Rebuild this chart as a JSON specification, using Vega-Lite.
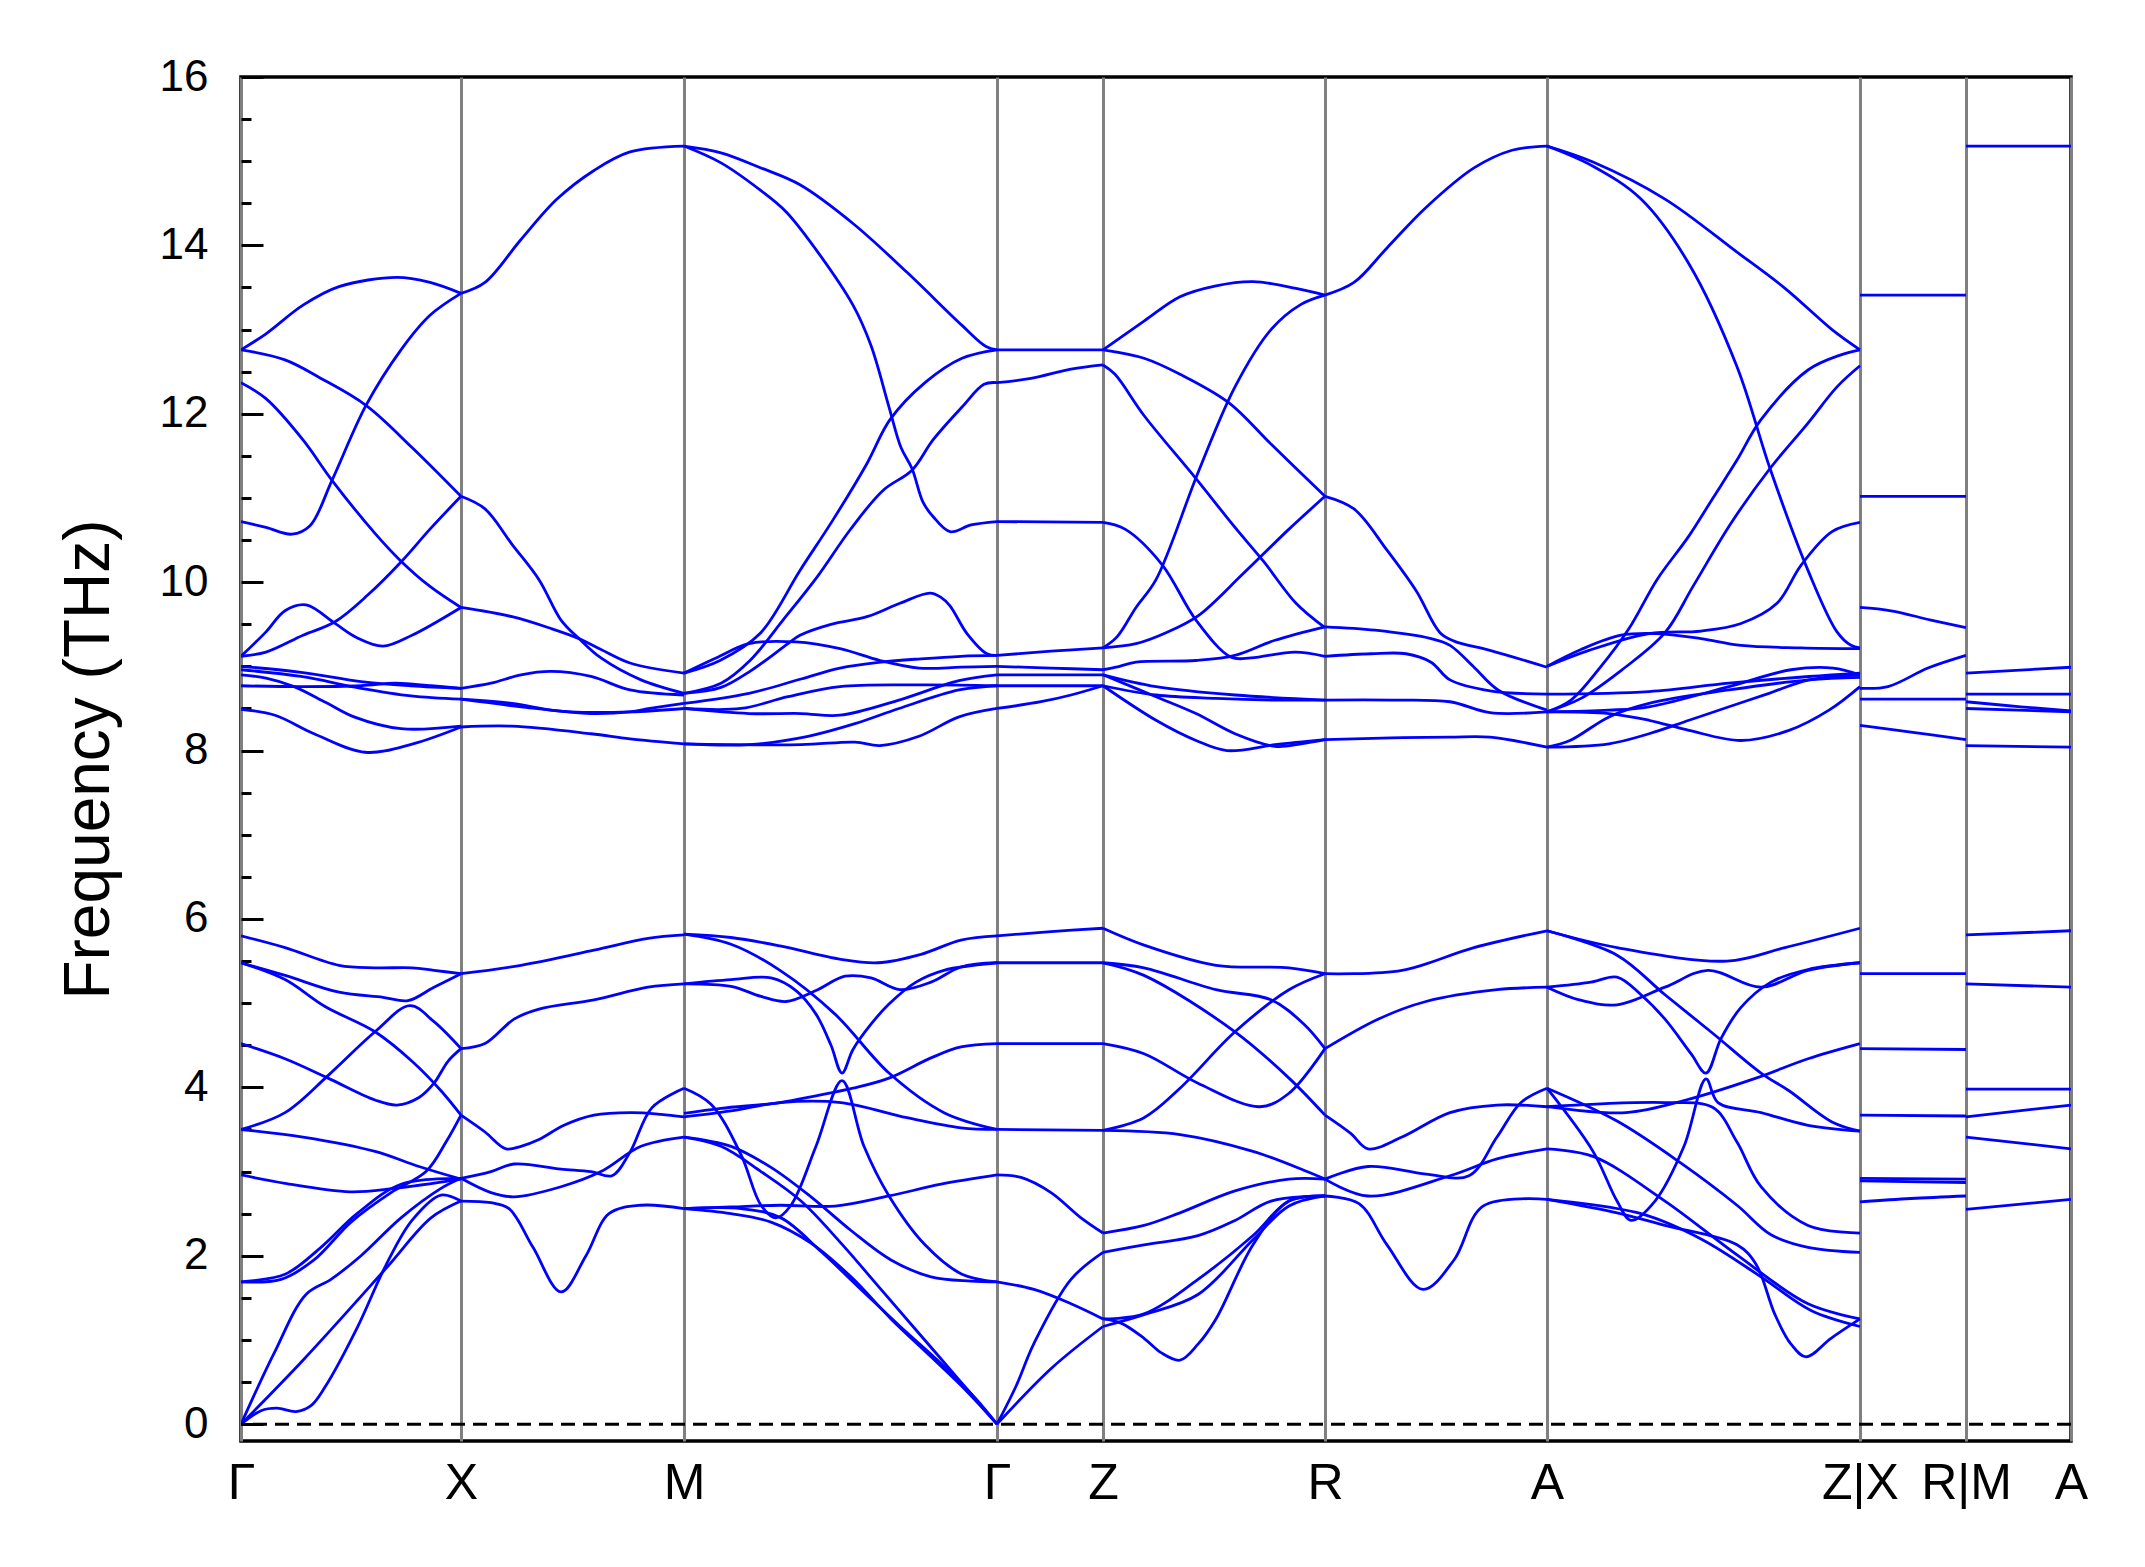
{
"$schema": "https://vega.github.io/schema/vega-lite/v6.json",
"width": 1830, "height": 1364,
"autosize": {"type": "none"},
"padding": {"left": 241, "top": 77, "right": 74, "bottom": 126},
"background": "white",
"config": {"view": {"stroke": "black", "strokeWidth": 3.5}, "font": "Liberation Sans"},
"layer": [
{
"data": {"values": [
{"s":"1A","x":0,"f":12.76},{"s":"1A","x":25,"f":12.95},{"s":"1A","x":62,"f":13.29},{"s":"1A","x":98,"f":13.51},{"s":"1A","x":156,"f":13.62},{"s":"1A","x":189,"f":13.56},{"s":"1A","x":220,"f":13.43},
{"s":"1B","x":0,"f":12.76},{"s":"1B","x":44,"f":12.64},{"s":"1B","x":80,"f":12.42},{"s":"1B","x":125,"f":12.1},{"s":"1B","x":171,"f":11.6},{"s":"1B","x":220,"f":11.02},
{"s":"1C","x":0,"f":12.37},{"s":"1C","x":25,"f":12.18},{"s":"1C","x":62,"f":11.69},{"s":"1C","x":91,"f":11.21},{"s":"1C","x":134,"f":10.58},{"s":"1C","x":160,"f":10.25},{"s":"1C","x":189,"f":9.95},{"s":"1C","x":220,"f":9.7},
{"s":"1D","x":0,"f":10.72},{"s":"1D","x":25,"f":10.65},{"s":"1D","x":51,"f":10.57},{"s":"1D","x":69,"f":10.67},{"s":"1D","x":91,"f":11.21},{"s":"1D","x":125,"f":12.1},{"s":"1D","x":160,"f":12.76},{"s":"1D","x":189,"f":13.17},{"s":"1D","x":220,"f":13.43},
{"s":"1E","x":0,"f":9.12},{"s":"1E","x":25,"f":9.41},{"s":"1E","x":44,"f":9.66},{"s":"1E","x":65,"f":9.73},{"s":"1E","x":94,"f":9.51},{"s":"1E","x":116,"f":9.34},{"s":"1E","x":142,"f":9.24},{"s":"1E","x":171,"f":9.37},{"s":"1E","x":220,"f":9.7},
{"s":"1F","x":0,"f":9.12},{"s":"1F","x":25,"f":9.17},{"s":"1F","x":62,"f":9.37},{"s":"1F","x":94,"f":9.53},{"s":"1F","x":127,"f":9.85},{"s":"1F","x":160,"f":10.24},{"s":"1F","x":189,"f":10.63},{"s":"1F","x":220,"f":11.02},
{"s":"1G1","x":0,"f":9.0},{"s":"1G1","x":60,"f":8.93},{"s":"1G1","x":120,"f":8.82},{"s":"1G1","x":170,"f":8.77},{"s":"1G1","x":220,"f":8.74},
{"s":"1G2","x":0,"f":8.96},{"s":"1G2","x":60,"f":8.88},{"s":"1G2","x":120,"f":8.74},{"s":"1G2","x":170,"f":8.65},{"s":"1G2","x":220,"f":8.61},
{"s":"1G3","x":0,"f":8.9},{"s":"1G3","x":25,"f":8.86},{"s":"1G3","x":53,"f":8.76},{"s":"1G3","x":85,"f":8.57},{"s":"1G3","x":113,"f":8.4},{"s":"1G3","x":160,"f":8.26},{"s":"1G3","x":220,"f":8.29},
{"s":"1G4","x":0,"f":8.77},{"s":"1G4","x":60,"f":8.76},{"s":"1G4","x":120,"f":8.77},{"s":"1G4","x":155,"f":8.8},{"s":"1G4","x":190,"f":8.77},{"s":"1G4","x":220,"f":8.74},
{"s":"1L1","x":0,"f":8.49},{"s":"1L1","x":34,"f":8.42},{"s":"1L1","x":73,"f":8.2},{"s":"1L1","x":124,"f":7.98},{"s":"1L1","x":172,"f":8.08},{"s":"1L1","x":220,"f":8.28},
{"s":"1P1","x":0,"f":5.8},{"s":"1P1","x":44,"f":5.66},{"s":"1P1","x":98,"f":5.45},{"s":"1P1","x":134,"f":5.42},{"s":"1P1","x":171,"f":5.42},{"s":"1P1","x":193,"f":5.39},{"s":"1P1","x":220,"f":5.35},
{"s":"1P2","x":0,"f":5.48},{"s":"1P2","x":44,"f":5.33},{"s":"1P2","x":98,"f":5.13},{"s":"1P2","x":142,"f":5.07},{"s":"1P2","x":167,"f":5.03},{"s":"1P2","x":193,"f":5.19},{"s":"1P2","x":220,"f":5.35},
{"s":"1P3","x":0,"f":5.48},{"s":"1P3","x":44,"f":5.28},{"s":"1P3","x":84,"f":4.96},{"s":"1P3","x":134,"f":4.66},{"s":"1P3","x":171,"f":4.31},{"s":"1P3","x":200,"f":3.96},{"s":"1P3","x":220,"f":3.67},
{"s":"1P4","x":0,"f":4.52},{"s":"1P4","x":44,"f":4.34},{"s":"1P4","x":87,"f":4.11},{"s":"1P4","x":134,"f":3.85},{"s":"1P4","x":156,"f":3.79},{"s":"1P4","x":178,"f":3.88},{"s":"1P4","x":193,"f":4.05},{"s":"1P4","x":207,"f":4.31},{"s":"1P4","x":220,"f":4.46},
{"s":"1P5","x":0,"f":3.5},{"s":"1P5","x":44,"f":3.7},{"s":"1P5","x":87,"f":4.14},{"s":"1P5","x":134,"f":4.66},{"s":"1P5","x":169,"f":4.97},{"s":"1P5","x":193,"f":4.78},{"s":"1P5","x":220,"f":4.46},
{"s":"1P6","x":0,"f":3.5},{"s":"1P6","x":62,"f":3.41},{"s":"1P6","x":134,"f":3.24},{"s":"1P6","x":178,"f":3.06},{"s":"1P6","x":220,"f":2.91},
{"s":"1P7","x":0,"f":2.96},{"s":"1P7","x":44,"f":2.86},{"s":"1P7","x":109,"f":2.76},{"s":"1P7","x":153,"f":2.8},{"s":"1P7","x":220,"f":2.91},
{"s":"1Q1","x":0,"f":0},{"s":"1Q1","x":33,"f":0.84},{"s":"1Q1","x":65,"f":1.54},{"s":"1Q1","x":90,"f":1.72},{"s":"1Q1","x":120,"f":2.0},{"s":"1Q1","x":160,"f":2.45},{"s":"1Q1","x":200,"f":2.8},{"s":"1Q1","x":220,"f":2.92},
{"s":"1Q2","x":0,"f":0},{"s":"1Q2","x":62,"f":0.76},{"s":"1Q2","x":145,"f":1.85},{"s":"1Q2","x":190,"f":2.45},{"s":"1Q2","x":220,"f":2.65},
{"s":"1Q3","x":0,"f":0},{"s":"1Q3","x":20,"f":0.16},{"s":"1Q3","x":36,"f":0.19},{"s":"1Q3","x":55,"f":0.15},{"s":"1Q3","x":70,"f":0.22},{"s":"1Q3","x":84,"f":0.44},{"s":"1Q3","x":116,"f":1.14},{"s":"1Q3","x":145,"f":1.89},{"s":"1Q3","x":171,"f":2.42},{"s":"1Q3","x":200,"f":2.72},{"s":"1Q3","x":220,"f":2.65},
{"s":"1Q4","x":0,"f":1.69},{"s":"1Q4","x":44,"f":1.78},{"s":"1Q4","x":80,"f":2.1},{"s":"1Q4","x":116,"f":2.5},{"s":"1Q4","x":160,"f":2.85},{"s":"1Q4","x":220,"f":2.92},
{"s":"1Q5","x":0,"f":1.69},{"s":"1Q5","x":40,"f":1.72},{"s":"1Q5","x":73,"f":1.95},{"s":"1Q5","x":110,"f":2.4},{"s":"1Q5","x":150,"f":2.75},{"s":"1Q5","x":185,"f":3.0},{"s":"1Q5","x":205,"f":3.35},{"s":"1Q5","x":220,"f":3.67},
{"s":"2a","x":220,"f":13.43},{"s":"2a","x":244,"f":13.56},{"s":"2a","x":280,"f":14.07},{"s":"2a","x":316,"f":14.55},{"s":"2a","x":353,"f":14.89},{"s":"2a","x":389,"f":15.11},{"s":"2a","x":443,"f":15.18},
{"s":"2b","x":220,"f":11.02},{"s":"2b","x":244,"f":10.87},{"s":"2b","x":271,"f":10.45},{"s":"2b","x":298,"f":10.03},{"s":"2b","x":320,"f":9.55},{"s":"2b","x":338,"f":9.33},{"s":"2b","x":360,"f":9.1},{"s":"2b","x":400,"f":8.84},{"s":"2b","x":443,"f":8.68},
{"s":"2c","x":220,"f":9.7},{"s":"2c","x":271,"f":9.59},{"s":"2c","x":310,"f":9.45},{"s":"2c","x":338,"f":9.33},{"s":"2c","x":360,"f":9.2},{"s":"2c","x":389,"f":9.04},{"s":"2c","x":443,"f":8.92},
{"s":"2g1","x":220,"f":8.74},{"s":"2g1","x":250,"f":8.8},{"s":"2g1","x":280,"f":8.9},{"s":"2g1","x":310,"f":8.94},{"s":"2g1","x":350,"f":8.88},{"s":"2g1","x":389,"f":8.72},{"s":"2g1","x":443,"f":8.66},
{"s":"2g2","x":220,"f":8.61},{"s":"2g2","x":271,"f":8.56},{"s":"2g2","x":310,"f":8.48},{"s":"2g2","x":350,"f":8.44},{"s":"2g2","x":389,"f":8.46},{"s":"2g2","x":409,"f":8.5},{"s":"2g2","x":443,"f":8.56},
{"s":"2g3","x":220,"f":8.28},{"s":"2g3","x":271,"f":8.29},{"s":"2g3","x":350,"f":8.2},{"s":"2g3","x":389,"f":8.14},{"s":"2g3","x":443,"f":8.08},
{"s":"2g4","x":220,"f":8.61},{"s":"2g4","x":280,"f":8.52},{"s":"2g4","x":330,"f":8.46},{"s":"2g4","x":389,"f":8.46},{"s":"2g4","x":443,"f":8.5},
{"s":"2p1","x":220,"f":5.35},{"s":"2p1","x":280,"f":5.45},{"s":"2p1","x":353,"f":5.63},{"s":"2p1","x":407,"f":5.77},{"s":"2p1","x":443,"f":5.81},
{"s":"2p2","x":220,"f":4.46},{"s":"2p2","x":244,"f":4.52},{"s":"2p2","x":273,"f":4.81},{"s":"2p2","x":298,"f":4.93},{"s":"2p2","x":353,"f":5.04},{"s":"2p2","x":407,"f":5.19},{"s":"2p2","x":443,"f":5.23},
{"s":"2p3","x":220,"f":3.67},{"s":"2p3","x":244,"f":3.47},{"s":"2p3","x":265,"f":3.27},{"s":"2p3","x":280,"f":3.3},{"s":"2p3","x":298,"f":3.38},{"s":"2p3","x":323,"f":3.55},{"s":"2p3","x":353,"f":3.67},{"s":"2p3","x":390,"f":3.7},{"s":"2p3","x":420,"f":3.68},{"s":"2p3","x":443,"f":3.65},
{"s":"2p4","x":220,"f":2.92},{"s":"2p4","x":250,"f":3.0},{"s":"2p4","x":273,"f":3.09},{"s":"2p4","x":320,"f":3.03},{"s":"2p4","x":350,"f":3.0},{"s":"2p4","x":371,"f":2.95},{"s":"2p4","x":389,"f":3.23},{"s":"2p4","x":411,"f":3.76},{"s":"2p4","x":443,"f":3.99},
{"s":"2p5","x":220,"f":2.92},{"s":"2p5","x":250,"f":2.75},{"s":"2p5","x":273,"f":2.7},{"s":"2p5","x":320,"f":2.82},{"s":"2p5","x":360,"f":3.0},{"s":"2p5","x":400,"f":3.3},{"s":"2p5","x":443,"f":3.41},
{"s":"2p6","x":220,"f":2.65},{"s":"2p6","x":250,"f":2.63},{"s":"2p6","x":268,"f":2.56},{"s":"2p6","x":292,"f":2.1},{"s":"2p6","x":320,"f":1.57},{"s":"2p6","x":345,"f":2.0},{"s":"2p6","x":368,"f":2.5},{"s":"2p6","x":400,"f":2.6},{"s":"2p6","x":443,"f":2.56},
{"s":"3u1","x":443,"f":15.18},{"s":"3u1","x":480,"f":15.1},{"s":"3u1","x":520,"f":14.92},{"s":"3u1","x":559,"f":14.72},{"s":"3u1","x":612,"f":14.26},{"s":"3u1","x":666,"f":13.68},{"s":"3u1","x":721,"f":13.05},{"s":"3u1","x":745,"f":12.8},{"s":"3u1","x":756,"f":12.76},
{"s":"3u2","x":443,"f":15.18},{"s":"3u2","x":480,"f":14.98},{"s":"3u2","x":520,"f":14.65},{"s":"3u2","x":545,"f":14.4},{"s":"3u2","x":575,"f":13.95},{"s":"3u2","x":612,"f":13.29},{"s":"3u2","x":630,"f":12.81},{"s":"3u2","x":648,"f":12.08},{"s":"3u2","x":660,"f":11.6},{"s":"3u2","x":671,"f":11.35},{"s":"3u2","x":682,"f":10.95},{"s":"3u2","x":692,"f":10.78},{"s":"3u2","x":709,"f":10.6},{"s":"3u2","x":730,"f":10.68},{"s":"3u2","x":756,"f":10.72},
{"s":"3u3","x":443,"f":8.92},{"s":"3u3","x":479,"f":9.07},{"s":"3u3","x":519,"f":9.39},{"s":"3u3","x":559,"f":10.14},{"s":"3u3","x":592,"f":10.74},{"s":"3u3","x":626,"f":11.41},{"s":"3u3","x":649,"f":11.93},{"s":"3u3","x":684,"f":12.37},{"s":"3u3","x":721,"f":12.66},{"s":"3u3","x":756,"f":12.76},
{"s":"3u4","x":443,"f":8.68},{"s":"3u4","x":480,"f":8.8},{"s":"3u4","x":509,"f":9.07},{"s":"3u4","x":542,"f":9.55},{"s":"3u4","x":576,"f":10.06},{"s":"3u4","x":609,"f":10.62},{"s":"3u4","x":642,"f":11.09},{"s":"3u4","x":671,"f":11.33},{"s":"3u4","x":692,"f":11.69},{"s":"3u4","x":721,"f":12.08},{"s":"3u4","x":743,"f":12.35},{"s":"3u4","x":756,"f":12.37},
{"s":"3u5","x":443,"f":8.68},{"s":"3u5","x":480,"f":8.75},{"s":"3u5","x":510,"f":8.95},{"s":"3u5","x":547,"f":9.27},{"s":"3u5","x":559,"f":9.37},{"s":"3u5","x":590,"f":9.5},{"s":"3u5","x":626,"f":9.59},{"s":"3u5","x":659,"f":9.75},{"s":"3u5","x":689,"f":9.87},{"s":"3u5","x":700,"f":9.82},{"s":"3u5","x":709,"f":9.72},{"s":"3u5","x":726,"f":9.39},{"s":"3u5","x":746,"f":9.15},{"s":"3u5","x":756,"f":9.13},
{"s":"3c1","x":443,"f":8.92},{"s":"3c1","x":475,"f":9.1},{"s":"3c1","x":508,"f":9.27},{"s":"3c1","x":555,"f":9.29},{"s":"3c1","x":599,"f":9.21},{"s":"3c1","x":639,"f":9.07},{"s":"3c1","x":678,"f":8.98},{"s":"3c1","x":720,"f":8.99},{"s":"3c1","x":756,"f":9.0},
{"s":"3c2","x":443,"f":8.56},{"s":"3c2","x":508,"f":8.68},{"s":"3c2","x":560,"f":8.85},{"s":"3c2","x":599,"f":8.98},{"s":"3c2","x":640,"f":9.05},{"s":"3c2","x":680,"f":9.09},{"s":"3c2","x":720,"f":9.12},{"s":"3c2","x":756,"f":9.13},
{"s":"3c3","x":443,"f":8.5},{"s":"3c3","x":500,"f":8.5},{"s":"3c3","x":547,"f":8.64},{"s":"3c3","x":599,"f":8.76},{"s":"3c3","x":680,"f":8.78},{"s":"3c3","x":756,"f":8.77},
{"s":"3c4","x":443,"f":8.5},{"s":"3c4","x":508,"f":8.44},{"s":"3c4","x":560,"f":8.44},{"s":"3c4","x":599,"f":8.42},{"s":"3c4","x":658,"f":8.6},{"s":"3c4","x":718,"f":8.83},{"s":"3c4","x":756,"f":8.9},
{"s":"3c5","x":443,"f":8.08},{"s":"3c5","x":508,"f":8.07},{"s":"3c5","x":567,"f":8.17},{"s":"3c5","x":614,"f":8.32},{"s":"3c5","x":658,"f":8.5},{"s":"3c5","x":718,"f":8.72},{"s":"3c5","x":756,"f":8.77},
{"s":"3c6","x":443,"f":8.08},{"s":"3c6","x":560,"f":8.07},{"s":"3c6","x":614,"f":8.1},{"s":"3c6","x":639,"f":8.06},{"s":"3c6","x":678,"f":8.17},{"s":"3c6","x":718,"f":8.4},{"s":"3c6","x":756,"f":8.5},
{"s":"3p1","x":443,"f":5.82},{"s":"3p1","x":490,"f":5.78},{"s":"3p1","x":539,"f":5.68},{"s":"3p1","x":600,"f":5.52},{"s":"3p1","x":637,"f":5.48},{"s":"3p1","x":680,"f":5.58},{"s":"3p1","x":720,"f":5.75},{"s":"3p1","x":756,"f":5.8},
{"s":"3p2","x":443,"f":5.82},{"s":"3p2","x":490,"f":5.7},{"s":"3p2","x":539,"f":5.39},{"s":"3p2","x":594,"f":4.87},{"s":"3p2","x":648,"f":4.17},{"s":"3p2","x":703,"f":3.7},{"s":"3p2","x":756,"f":3.5},
{"s":"3p3","x":443,"f":5.23},{"s":"3p3","x":490,"f":5.2},{"s":"3p3","x":520,"f":5.08},{"s":"3p3","x":545,"f":5.02},{"s":"3p3","x":575,"f":5.15},{"s":"3p3","x":604,"f":5.32},{"s":"3p3","x":630,"f":5.3},{"s":"3p3","x":659,"f":5.16},{"s":"3p3","x":690,"f":5.25},{"s":"3p3","x":720,"f":5.43},{"s":"3p3","x":756,"f":5.48},
{"s":"3p4","x":443,"f":5.23},{"s":"3p4","x":490,"f":5.28},{"s":"3p4","x":530,"f":5.3},{"s":"3p4","x":555,"f":5.15},{"s":"3p4","x":575,"f":4.87},{"s":"3p4","x":590,"f":4.5},{"s":"3p4","x":601,"f":4.17},{"s":"3p4","x":612,"f":4.45},{"s":"3p4","x":630,"f":4.75},{"s":"3p4","x":648,"f":4.99},{"s":"3p4","x":675,"f":5.25},{"s":"3p4","x":703,"f":5.39},{"s":"3p4","x":756,"f":5.48},
{"s":"3p5","x":443,"f":3.99},{"s":"3p5","x":470,"f":3.8},{"s":"3p5","x":500,"f":3.2},{"s":"3p5","x":520,"f":2.6},{"s":"3p5","x":535,"f":2.45},{"s":"3p5","x":550,"f":2.6},{"s":"3p5","x":575,"f":3.3},{"s":"3p5","x":601,"f":4.08},{"s":"3p5","x":623,"f":3.3},{"s":"3p5","x":648,"f":2.71},{"s":"3p5","x":684,"f":2.13},{"s":"3p5","x":721,"f":1.78},{"s":"3p5","x":756,"f":1.69},
{"s":"3p6","x":443,"f":3.69},{"s":"3p6","x":480,"f":3.75},{"s":"3p6","x":539,"f":3.82},{"s":"3p6","x":575,"f":3.9},{"s":"3p6","x":612,"f":3.99},{"s":"3p6","x":648,"f":4.11},{"s":"3p6","x":690,"f":4.35},{"s":"3p6","x":720,"f":4.48},{"s":"3p6","x":756,"f":4.52},
{"s":"3p7","x":443,"f":3.65},{"s":"3p7","x":490,"f":3.72},{"s":"3p7","x":539,"f":3.82},{"s":"3p7","x":600,"f":3.82},{"s":"3p7","x":666,"f":3.64},{"s":"3p7","x":720,"f":3.52},{"s":"3p7","x":756,"f":3.5},
{"s":"3p8","x":443,"f":2.56},{"s":"3p8","x":490,"f":2.58},{"s":"3p8","x":539,"f":2.6},{"s":"3p8","x":594,"f":2.59},{"s":"3p8","x":648,"f":2.71},{"s":"3p8","x":700,"f":2.85},{"s":"3p8","x":756,"f":2.96},
{"s":"3p9","x":443,"f":3.41},{"s":"3p9","x":490,"f":3.3},{"s":"3p9","x":530,"f":3.05},{"s":"3p9","x":570,"f":2.7},{"s":"3p9","x":610,"f":2.3},{"s":"3p9","x":650,"f":1.95},{"s":"3p9","x":690,"f":1.75},{"s":"3p9","x":730,"f":1.7},{"s":"3p9","x":756,"f":1.69},
{"s":"3a1","x":443,"f":3.41},{"s":"3a1","x":480,"f":3.3},{"s":"3a1","x":520,"f":3.0},{"s":"3a1","x":560,"f":2.65},{"s":"3a1","x":600,"f":2.15},{"s":"3a1","x":640,"f":1.6},{"s":"3a1","x":680,"f":1.05},{"s":"3a1","x":720,"f":0.5},{"s":"3a1","x":756,"f":0},
{"s":"3a2","x":443,"f":2.56},{"s":"3a2","x":490,"f":2.5},{"s":"3a2","x":530,"f":2.4},{"s":"3a2","x":570,"f":2.15},{"s":"3a2","x":610,"f":1.75},{"s":"3a2","x":650,"f":1.25},{"s":"3a2","x":690,"f":0.8},{"s":"3a2","x":725,"f":0.4},{"s":"3a2","x":756,"f":0},
{"s":"3a3","x":443,"f":2.56},{"s":"3a3","x":500,"f":2.56},{"s":"3a3","x":540,"f":2.45},{"s":"3a3","x":580,"f":2.05},{"s":"3a3","x":620,"f":1.6},{"s":"3a3","x":660,"f":1.15},{"s":"3a3","x":700,"f":0.72},{"s":"3a3","x":735,"f":0.3},{"s":"3a3","x":756,"f":0},
{"s":"4u1","x":756,"f":12.76},{"s":"4u1","x":862,"f":12.76},
{"s":"4u2","x":756,"f":12.37},{"s":"4u2","x":790,"f":12.42},{"s":"4u2","x":830,"f":12.53},{"s":"4u2","x":862,"f":12.58},
{"s":"4u3","x":756,"f":10.72},{"s":"4u3","x":862,"f":10.71},
{"s":"4u4","x":756,"f":9.13},{"s":"4u4","x":810,"f":9.18},{"s":"4u4","x":862,"f":9.22},
{"s":"4c1","x":756,"f":9.0},{"s":"4c1","x":810,"f":8.98},{"s":"4c1","x":862,"f":8.96},
{"s":"4c2","x":756,"f":8.9},{"s":"4c2","x":862,"f":8.9},
{"s":"4c3","x":756,"f":8.77},{"s":"4c3","x":862,"f":8.77},
{"s":"4c4","x":756,"f":8.5},{"s":"4c4","x":800,"f":8.58},{"s":"4c4","x":830,"f":8.66},{"s":"4c4","x":862,"f":8.77},
{"s":"4p1","x":756,"f":5.8},{"s":"4p1","x":810,"f":5.85},{"s":"4p1","x":862,"f":5.89},
{"s":"4p2","x":756,"f":5.48},{"s":"4p2","x":862,"f":5.48},
{"s":"4p3","x":756,"f":4.52},{"s":"4p3","x":862,"f":4.52},
{"s":"4p4","x":756,"f":3.5},{"s":"4p4","x":862,"f":3.49},
{"s":"4p5","x":756,"f":2.96},{"s":"4p5","x":780,"f":2.93},{"s":"4p5","x":810,"f":2.75},{"s":"4p5","x":840,"f":2.45},{"s":"4p5","x":862,"f":2.27},
{"s":"4p6","x":756,"f":1.69},{"s":"4p6","x":793,"f":1.6},{"s":"4p6","x":830,"f":1.43},{"s":"4p6","x":862,"f":1.25},
{"s":"4a1","x":756,"f":0},{"s":"4a1","x":775,"f":0.45},{"s":"4a1","x":793,"f":0.96},{"s":"4a1","x":830,"f":1.72},{"s":"4a1","x":862,"f":2.04},
{"s":"4a2","x":756,"f":0},{"s":"4a2","x":811,"f":0.67},{"s":"4a2","x":862,"f":1.16},
{"s":"5u1","x":862,"f":12.76},{"s":"5u1","x":903,"f":13.1},{"s":"5u1","x":939,"f":13.39},{"s":"5u1","x":975,"f":13.52},{"s":"5u1","x":1012,"f":13.57},{"s":"5u1","x":1055,"f":13.49},{"s":"5u1","x":1084,"f":13.41},
{"s":"5u2","x":862,"f":12.76},{"s":"5u2","x":903,"f":12.66},{"s":"5u2","x":939,"f":12.47},{"s":"5u2","x":988,"f":12.13},{"s":"5u2","x":1030,"f":11.64},{"s":"5u2","x":1084,"f":11.02},
{"s":"5u3","x":862,"f":12.58},{"s":"5u3","x":874,"f":12.47},{"s":"5u3","x":903,"f":11.98},{"s":"5u3","x":955,"f":11.23},{"s":"5u3","x":994,"f":10.65},{"s":"5u3","x":1023,"f":10.24},{"s":"5u3","x":1055,"f":9.75},{"s":"5u3","x":1084,"f":9.46},
{"s":"5u4","x":862,"f":10.71},{"s":"5u4","x":884,"f":10.63},{"s":"5u4","x":921,"f":10.21},{"s":"5u4","x":955,"f":9.55},{"s":"5u4","x":990,"f":9.11},{"s":"5u4","x":1010,"f":9.1},{"s":"5u4","x":1054,"f":9.17},{"s":"5u4","x":1084,"f":9.12},
{"s":"5u5","x":862,"f":9.22},{"s":"5u5","x":876,"f":9.35},{"s":"5u5","x":895,"f":9.7},{"s":"5u5","x":915,"f":10.03},{"s":"5u5","x":957,"f":11.3},{"s":"5u5","x":994,"f":12.32},{"s":"5u5","x":1030,"f":13.0},{"s":"5u5","x":1060,"f":13.3},{"s":"5u5","x":1084,"f":13.41},
{"s":"5u6","x":862,"f":9.22},{"s":"5u6","x":895,"f":9.27},{"s":"5u6","x":925,"f":9.4},{"s":"5u6","x":957,"f":9.6},{"s":"5u6","x":1002,"f":10.1},{"s":"5u6","x":1048,"f":10.63},{"s":"5u6","x":1084,"f":11.02},
{"s":"5c1","x":862,"f":8.96},{"s":"5c1","x":875,"f":8.99},{"s":"5c1","x":895,"f":9.05},{"s":"5c1","x":955,"f":9.07},{"s":"5c1","x":994,"f":9.13},{"s":"5c1","x":1034,"f":9.31},{"s":"5c1","x":1084,"f":9.47},
{"s":"5c2","x":862,"f":8.9},{"s":"5c2","x":915,"f":8.76},{"s":"5c2","x":994,"f":8.66},{"s":"5c2","x":1084,"f":8.6},
{"s":"5c3","x":862,"f":8.77},{"s":"5c3","x":915,"f":8.66},{"s":"5c3","x":975,"f":8.62},{"s":"5c3","x":1034,"f":8.6},{"s":"5c3","x":1084,"f":8.6},
{"s":"5c4","x":862,"f":8.9},{"s":"5c4","x":915,"f":8.64},{"s":"5c4","x":955,"f":8.44},{"s":"5c4","x":994,"f":8.2},{"s":"5c4","x":1034,"f":8.05},{"s":"5c4","x":1060,"f":8.08},{"s":"5c4","x":1084,"f":8.13},
{"s":"5c5","x":862,"f":8.77},{"s":"5c5","x":915,"f":8.36},{"s":"5c5","x":955,"f":8.12},{"s":"5c5","x":986,"f":8.0},{"s":"5c5","x":1034,"f":8.07},{"s":"5c5","x":1084,"f":8.13},
{"s":"5p1","x":862,"f":5.89},{"s":"5p1","x":903,"f":5.69},{"s":"5p1","x":975,"f":5.45},{"s":"5p1","x":1048,"f":5.42},{"s":"5p1","x":1084,"f":5.35},
{"s":"5p2","x":862,"f":5.48},{"s":"5p2","x":903,"f":5.42},{"s":"5p2","x":975,"f":5.16},{"s":"5p2","x":1030,"f":5.04},{"s":"5p2","x":1063,"f":4.75},{"s":"5p2","x":1084,"f":4.46},
{"s":"5p3","x":862,"f":5.48},{"s":"5p3","x":903,"f":5.33},{"s":"5p3","x":994,"f":4.66},{"s":"5p3","x":1048,"f":4.11},{"s":"5p3","x":1084,"f":3.67},
{"s":"5p4","x":862,"f":4.52},{"s":"5p4","x":903,"f":4.4},{"s":"5p4","x":957,"f":4.05},{"s":"5p4","x":1019,"f":3.77},{"s":"5p4","x":1048,"f":3.93},{"s":"5p4","x":1084,"f":4.46},
{"s":"5p5","x":862,"f":3.49},{"s":"5p5","x":903,"f":3.64},{"s":"5p5","x":939,"f":3.99},{"s":"5p5","x":994,"f":4.66},{"s":"5p5","x":1048,"f":5.16},{"s":"5p5","x":1084,"f":5.35},
{"s":"5p6","x":862,"f":3.49},{"s":"5p6","x":939,"f":3.44},{"s":"5p6","x":1012,"f":3.24},{"s":"5p6","x":1066,"f":3.0},{"s":"5p6","x":1084,"f":2.91},
{"s":"5p7","x":862,"f":2.27},{"s":"5p7","x":903,"f":2.36},{"s":"5p7","x":939,"f":2.51},{"s":"5p7","x":994,"f":2.77},{"s":"5p7","x":1048,"f":2.91},{"s":"5p7","x":1084,"f":2.91},
{"s":"5p8","x":862,"f":2.04},{"s":"5p8","x":903,"f":2.13},{"s":"5p8","x":957,"f":2.24},{"s":"5p8","x":994,"f":2.42},{"s":"5p8","x":1030,"f":2.65},{"s":"5p8","x":1084,"f":2.71},
{"s":"5a1","x":862,"f":1.25},{"s":"5a1","x":880,"f":1.2},{"s":"5a1","x":903,"f":1.02},{"s":"5a1","x":920,"f":0.85},{"s":"5a1","x":939,"f":0.76},{"s":"5a1","x":957,"f":0.95},{"s":"5a1","x":975,"f":1.25},{"s":"5a1","x":1012,"f":2.13},{"s":"5a1","x":1048,"f":2.65},{"s":"5a1","x":1084,"f":2.71},
{"s":"5a2","x":862,"f":1.16},{"s":"5a2","x":903,"f":1.3},{"s":"5a2","x":957,"f":1.54},{"s":"5a2","x":1012,"f":2.19},{"s":"5a2","x":1048,"f":2.59},{"s":"5a2","x":1084,"f":2.71},
{"s":"5a3","x":862,"f":1.25},{"s":"5a3","x":903,"f":1.31},{"s":"5a3","x":957,"f":1.72},{"s":"5a3","x":1012,"f":2.24},{"s":"5a3","x":1048,"f":2.65},{"s":"5a3","x":1084,"f":2.71},
{"s":"6u1","x":1084,"f":13.41},{"s":"6u1","x":1113,"f":13.56},{"s":"6u1","x":1146,"f":13.97},{"s":"6u1","x":1185,"f":14.45},{"s":"6u1","x":1233,"f":14.92},{"s":"6u1","x":1271,"f":15.13},{"s":"6u1","x":1306,"f":15.18},
{"s":"6u2","x":1084,"f":11.02},{"s":"6u2","x":1113,"f":10.87},{"s":"6u2","x":1146,"f":10.38},{"s":"6u2","x":1175,"f":9.9},{"s":"6u2","x":1199,"f":9.4},{"s":"6u2","x":1213,"f":9.3},{"s":"6u2","x":1249,"f":9.19},{"s":"6u2","x":1306,"f":8.99},
{"s":"6c1","x":1084,"f":9.47},{"s":"6c1","x":1134,"f":9.43},{"s":"6c1","x":1190,"f":9.33},{"s":"6c1","x":1209,"f":9.25},{"s":"6c1","x":1233,"f":8.99},{"s":"6c1","x":1257,"f":8.72},{"s":"6c1","x":1306,"f":8.48},
{"s":"6c2","x":1084,"f":9.12},{"s":"6c2","x":1130,"f":9.15},{"s":"6c2","x":1165,"f":9.15},{"s":"6c2","x":1190,"f":9.05},{"s":"6c2","x":1209,"f":8.84},{"s":"6c2","x":1249,"f":8.71},{"s":"6c2","x":1306,"f":8.67},
{"s":"6c3","x":1084,"f":8.6},{"s":"6c3","x":1150,"f":8.6},{"s":"6c3","x":1209,"f":8.58},{"s":"6c3","x":1249,"f":8.45},{"s":"6c3","x":1306,"f":8.46},
{"s":"6c4","x":1084,"f":8.13},{"s":"6c4","x":1150,"f":8.15},{"s":"6c4","x":1209,"f":8.16},{"s":"6c4","x":1249,"f":8.16},{"s":"6c4","x":1306,"f":8.04},
{"s":"6p1","x":1084,"f":5.35},{"s":"6p1","x":1161,"f":5.39},{"s":"6p1","x":1233,"f":5.66},{"s":"6p1","x":1306,"f":5.86},
{"s":"6p2","x":1084,"f":4.46},{"s":"6p2","x":1137,"f":4.81},{"s":"6p2","x":1185,"f":5.02},{"s":"6p2","x":1256,"f":5.16},{"s":"6p2","x":1306,"f":5.19},
{"s":"6p3","x":1084,"f":3.67},{"s":"6p3","x":1110,"f":3.45},{"s":"6p3","x":1127,"f":3.27},{"s":"6p3","x":1161,"f":3.41},{"s":"6p3","x":1209,"f":3.7},{"s":"6p3","x":1256,"f":3.79},{"s":"6p3","x":1306,"f":3.77},
{"s":"6p4","x":1084,"f":2.91},{"s":"6p4","x":1127,"f":3.06},{"s":"6p4","x":1185,"f":2.97},{"s":"6p4","x":1228,"f":2.95},{"s":"6p4","x":1256,"f":3.41},{"s":"6p4","x":1280,"f":3.82},{"s":"6p4","x":1306,"f":3.99},
{"s":"6p5","x":1084,"f":2.91},{"s":"6p5","x":1127,"f":2.71},{"s":"6p5","x":1209,"f":2.95},{"s":"6p5","x":1256,"f":3.15},{"s":"6p5","x":1306,"f":3.27},
{"s":"6p6","x":1084,"f":2.71},{"s":"6p6","x":1118,"f":2.62},{"s":"6p6","x":1146,"f":2.13},{"s":"6p6","x":1182,"f":1.6},{"s":"6p6","x":1213,"f":1.95},{"s":"6p6","x":1242,"f":2.59},{"s":"6p6","x":1306,"f":2.67},
{"s":"7u1","x":1306,"f":15.18},{"s":"7u1","x":1352,"f":14.99},{"s":"7u1","x":1424,"f":14.55},{"s":"7u1","x":1496,"f":13.92},{"s":"7u1","x":1544,"f":13.49},{"s":"7u1","x":1591,"f":13.0},{"s":"7u1","x":1619,"f":12.76},
{"s":"7u2","x":1306,"f":15.18},{"s":"7u2","x":1352,"f":14.94},{"s":"7u2","x":1400,"f":14.55},{"s":"7u2","x":1448,"f":13.78},{"s":"7u2","x":1496,"f":12.56},{"s":"7u2","x":1529,"f":11.35},{"s":"7u2","x":1567,"f":10.14},{"s":"7u2","x":1596,"f":9.41},{"s":"7u2","x":1610,"f":9.25},{"s":"7u2","x":1619,"f":9.22},
{"s":"7u3","x":1306,"f":8.46},{"s":"7u3","x":1330,"f":8.6},{"s":"7u3","x":1360,"f":9.0},{"s":"7u3","x":1388,"f":9.45},{"s":"7u3","x":1416,"f":10.03},{"s":"7u3","x":1448,"f":10.55},{"s":"7u3","x":1472,"f":11.0},{"s":"7u3","x":1496,"f":11.45},{"s":"7u3","x":1520,"f":11.93},{"s":"7u3","x":1567,"f":12.52},{"s":"7u3","x":1600,"f":12.7},{"s":"7u3","x":1619,"f":12.76},
{"s":"7u4","x":1306,"f":8.46},{"s":"7u4","x":1340,"f":8.62},{"s":"7u4","x":1380,"f":8.95},{"s":"7u4","x":1424,"f":9.4},{"s":"7u4","x":1452,"f":9.95},{"s":"7u4","x":1490,"f":10.7},{"s":"7u4","x":1529,"f":11.35},{"s":"7u4","x":1567,"f":11.89},{"s":"7u4","x":1596,"f":12.32},{"s":"7u4","x":1619,"f":12.57},
{"s":"7u5","x":1306,"f":9.0},{"s":"7u5","x":1348,"f":9.19},{"s":"7u5","x":1408,"f":9.39},{"s":"7u5","x":1460,"f":9.42},{"s":"7u5","x":1500,"f":9.51},{"s":"7u5","x":1536,"f":9.75},{"s":"7u5","x":1560,"f":10.2},{"s":"7u5","x":1591,"f":10.6},{"s":"7u5","x":1619,"f":10.71},
{"s":"7u6","x":1306,"f":9.0},{"s":"7u6","x":1340,"f":9.2},{"s":"7u6","x":1380,"f":9.37},{"s":"7u6","x":1416,"f":9.39},{"s":"7u6","x":1460,"f":9.33},{"s":"7u6","x":1500,"f":9.25},{"s":"7u6","x":1560,"f":9.22},{"s":"7u6","x":1619,"f":9.21},
{"s":"7c1","x":1306,"f":8.67},{"s":"7c1","x":1408,"f":8.7},{"s":"7c1","x":1488,"f":8.8},{"s":"7c1","x":1568,"f":8.88},{"s":"7c1","x":1619,"f":8.92},
{"s":"7c2","x":1306,"f":8.46},{"s":"7c2","x":1368,"f":8.44},{"s":"7c2","x":1408,"f":8.36},{"s":"7c2","x":1448,"f":8.24},{"s":"7c2","x":1500,"f":8.12},{"s":"7c2","x":1548,"f":8.24},{"s":"7c2","x":1588,"f":8.48},{"s":"7c2","x":1619,"f":8.76},
{"s":"7c3","x":1306,"f":8.04},{"s":"7c3","x":1368,"f":8.08},{"s":"7c3","x":1408,"f":8.2},{"s":"7c3","x":1448,"f":8.36},{"s":"7c3","x":1488,"f":8.52},{"s":"7c3","x":1528,"f":8.68},{"s":"7c3","x":1568,"f":8.84},{"s":"7c3","x":1619,"f":8.9},
{"s":"7c4","x":1306,"f":8.04},{"s":"7c4","x":1329,"f":8.12},{"s":"7c4","x":1368,"f":8.4},{"s":"7c4","x":1408,"f":8.56},{"s":"7c4","x":1488,"f":8.72},{"s":"7c4","x":1568,"f":8.84},{"s":"7c4","x":1619,"f":8.87},
{"s":"7c5","x":1306,"f":8.46},{"s":"7c5","x":1368,"f":8.48},{"s":"7c5","x":1408,"f":8.52},{"s":"7c5","x":1488,"f":8.76},{"s":"7c5","x":1550,"f":8.96},{"s":"7c5","x":1592,"f":8.98},{"s":"7c5","x":1619,"f":8.9},
{"s":"7p1","x":1306,"f":5.86},{"s":"7p1","x":1376,"f":5.66},{"s":"7p1","x":1486,"f":5.5},{"s":"7p1","x":1544,"f":5.66},{"s":"7p1","x":1619,"f":5.89},
{"s":"7p2","x":1306,"f":5.86},{"s":"7p2","x":1376,"f":5.57},{"s":"7p2","x":1424,"f":5.1},{"s":"7p2","x":1472,"f":4.64},{"s":"7p2","x":1520,"f":4.17},{"s":"7p2","x":1548,"f":3.96},{"s":"7p2","x":1591,"f":3.59},{"s":"7p2","x":1619,"f":3.48},
{"s":"7p3","x":1306,"f":5.19},{"s":"7p3","x":1338,"f":5.04},{"s":"7p3","x":1376,"f":4.98},{"s":"7p3","x":1424,"f":5.19},{"s":"7p3","x":1467,"f":5.39},{"s":"7p3","x":1520,"f":5.19},{"s":"7p3","x":1567,"f":5.39},{"s":"7p3","x":1619,"f":5.48},
{"s":"7p4","x":1306,"f":5.19},{"s":"7p4","x":1350,"f":5.25},{"s":"7p4","x":1376,"f":5.31},{"s":"7p4","x":1400,"f":5.1},{"s":"7p4","x":1424,"f":4.81},{"s":"7p4","x":1450,"f":4.4},{"s":"7p4","x":1465,"f":4.17},{"s":"7p4","x":1480,"f":4.58},{"s":"7p4","x":1500,"f":4.95},{"s":"7p4","x":1530,"f":5.25},{"s":"7p4","x":1567,"f":5.4},{"s":"7p4","x":1619,"f":5.48},
{"s":"7p5","x":1306,"f":3.99},{"s":"7p5","x":1352,"f":3.24},{"s":"7p5","x":1376,"f":2.65},{"s":"7p5","x":1390,"f":2.42},{"s":"7p5","x":1414,"f":2.65},{"s":"7p5","x":1443,"f":3.3},{"s":"7p5","x":1465,"f":4.1},{"s":"7p5","x":1477,"f":3.82},{"s":"7p5","x":1520,"f":3.7},{"s":"7p5","x":1567,"f":3.55},{"s":"7p5","x":1619,"f":3.48},
{"s":"7p6","x":1306,"f":3.77},{"s":"7p6","x":1385,"f":3.7},{"s":"7p6","x":1445,"f":3.85},{"s":"7p6","x":1515,"f":4.11},{"s":"7p6","x":1567,"f":4.34},{"s":"7p6","x":1619,"f":4.52},
{"s":"7p7","x":1306,"f":3.77},{"s":"7p7","x":1424,"f":3.82},{"s":"7p7","x":1472,"f":3.76},{"s":"7p7","x":1496,"f":3.35},{"s":"7p7","x":1520,"f":2.82},{"s":"7p7","x":1567,"f":2.36},{"s":"7p7","x":1619,"f":2.27},
{"s":"7p8","x":1306,"f":3.27},{"s":"7p8","x":1352,"f":3.18},{"s":"7p8","x":1424,"f":2.65},{"s":"7p8","x":1496,"f":2.01},{"s":"7p8","x":1567,"f":1.43},{"s":"7p8","x":1619,"f":1.25},
{"s":"7p9","x":1306,"f":2.67},{"s":"7p9","x":1376,"f":2.51},{"s":"7p9","x":1424,"f":2.36},{"s":"7p9","x":1496,"f":2.13},{"s":"7p9","x":1515,"f":1.9},{"s":"7p9","x":1534,"f":1.3},{"s":"7p9","x":1550,"f":0.95},{"s":"7p9","x":1565,"f":0.8},{"s":"7p9","x":1590,"f":1.02},{"s":"7p9","x":1619,"f":1.25},
{"s":"7p10","x":1306,"f":3.99},{"s":"7p10","x":1376,"f":3.6},{"s":"7p10","x":1440,"f":3.1},{"s":"7p10","x":1496,"f":2.6},{"s":"7p10","x":1530,"f":2.25},{"s":"7p10","x":1567,"f":2.1},{"s":"7p10","x":1619,"f":2.04},
{"s":"7p11","x":1306,"f":2.67},{"s":"7p11","x":1400,"f":2.5},{"s":"7p11","x":1460,"f":2.2},{"s":"7p11","x":1520,"f":1.75},{"s":"7p11","x":1570,"f":1.35},{"s":"7p11","x":1619,"f":1.16},
{"s":"8a","x":1619,"f":13.41},{"s":"8a","x":1725,"f":13.41},
{"s":"8b","x":1619,"f":11.02},{"s":"8b","x":1725,"f":11.02},
{"s":"8c","x":1619,"f":9.7},{"s":"8c","x":1650,"f":9.66},{"s":"8c","x":1690,"f":9.55},{"s":"8c","x":1725,"f":9.46},
{"s":"8d","x":1619,"f":8.74},{"s":"8d","x":1647,"f":8.76},{"s":"8d","x":1687,"f":8.98},{"s":"8d","x":1725,"f":9.13},
{"s":"8e","x":1619,"f":8.61},{"s":"8e","x":1725,"f":8.61},
{"s":"8f","x":1619,"f":8.3},{"s":"8f","x":1670,"f":8.22},{"s":"8f","x":1725,"f":8.13},
{"s":"8g","x":1619,"f":5.35},{"s":"8g","x":1725,"f":5.35},
{"s":"8h","x":1619,"f":4.46},{"s":"8h","x":1725,"f":4.45},
{"s":"8i","x":1619,"f":3.67},{"s":"8i","x":1725,"f":3.66},
{"s":"8j","x":1619,"f":2.92},{"s":"8j","x":1725,"f":2.91},
{"s":"8k","x":1619,"f":2.89},{"s":"8k","x":1725,"f":2.87},
{"s":"8l","x":1619,"f":2.64},{"s":"8l","x":1670,"f":2.68},{"s":"8l","x":1725,"f":2.71},
{"s":"9a","x":1725,"f":15.18},{"s":"9a","x":1830,"f":15.18},
{"s":"9b","x":1725,"f":8.92},{"s":"9b","x":1830,"f":8.99},
{"s":"9c","x":1725,"f":8.67},{"s":"9c","x":1830,"f":8.67},
{"s":"9d","x":1725,"f":8.58},{"s":"9d","x":1780,"f":8.52},{"s":"9d","x":1830,"f":8.47},
{"s":"9e","x":1725,"f":8.5},{"s":"9e","x":1830,"f":8.46},
{"s":"9f","x":1725,"f":8.06},{"s":"9f","x":1830,"f":8.04},
{"s":"9g","x":1725,"f":5.81},{"s":"9g","x":1830,"f":5.86},
{"s":"9h","x":1725,"f":5.23},{"s":"9h","x":1830,"f":5.19},
{"s":"9i","x":1725,"f":3.98},{"s":"9i","x":1830,"f":3.98},
{"s":"9j","x":1725,"f":3.65},{"s":"9j","x":1830,"f":3.79},
{"s":"9k","x":1725,"f":3.41},{"s":"9k","x":1830,"f":3.27},
{"s":"9l","x":1725,"f":2.55},{"s":"9l","x":1830,"f":2.67}
]},
"mark": {"type": "line", "color": "#0000ff", "strokeWidth": 2.8, "interpolate": "catmull-rom", "clip": true},
"encoding": {
"x": {"field": "x", "type": "quantitative", "scale": {"domain": [0, 1830], "nice": false, "zero": false},
 "axis": {"title": null, "values": [0, 220, 443, 756, 862, 1084, 1306, 1619, 1725, 1830],
  "labelExpr": "datum.value == 0 ? 'Γ' : datum.value == 220 ? 'X' : datum.value == 443 ? 'M' : datum.value == 756 ? 'Γ' : datum.value == 862 ? 'Z' : datum.value == 1084 ? 'R' : datum.value == 1306 ? 'A' : datum.value == 1619 ? 'Z|X' : datum.value == 1725 ? 'R|M' : 'A'",
  "grid": true, "gridColor": "#808080", "gridWidth": 3, "ticks": false, "domain": false,
  "labelFontSize": 50, "labelFont": "Liberation Sans", "labelColor": "black", "labelPadding": 57, "labelBaseline": "alphabetic",
  "labelFlush": false, "labelOverlap": false, "labelBound": false}},
"y": {"field": "f", "type": "quantitative", "scale": {"domain": [-0.2, 16], "nice": false, "zero": false},
 "axis": {"title": "Frequency (THz)", "values": [0,0.5,1,1.5,2,2.5,3,3.5,4,4.5,5,5.5,6,6.5,7,7.5,8,8.5,9,9.5,10,10.5,11,11.5,12,12.5,13,13.5,14,14.5,15,15.5,16],
  "labelExpr": "datum.value % 2 === 0 ? '' + datum.value : ''",
  "tickSize": {"condition": {"test": "datum.value % 2 === 0", "value": -22}, "value": -10},
  "tickWidth": 3, "tickColor": "black", "domain": false, "grid": false,
  "labelFontSize": 44, "labelFont": "Liberation Sans", "labelColor": "black", "labelPadding": 55, "labelOverlap": false, "labelBound": false, "labelFlush": false,
  "titleFontSize": 64, "titleFont": "Liberation Sans", "titleFontWeight": "normal", "titleColor": "black",
  "titleX": -152, "titleY": 682, "titleAngle": 270, "titleBaseline": "middle", "titleAlign": "center"}},
"detail": {"field": "s", "type": "nominal"}
}
},
{
"data": {"values": [{"f": 0}]},
"mark": {"type": "rule", "color": "black", "strokeWidth": 3, "strokeDash": [14, 8]},
"encoding": {"y": {"field": "f", "type": "quantitative", "title": "Frequency (THz)"}}
}
]
}
